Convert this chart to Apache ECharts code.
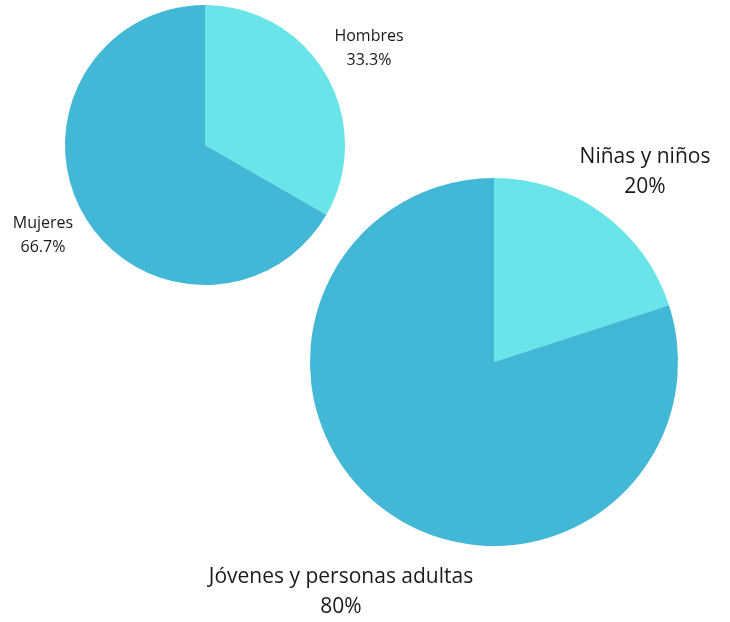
<!DOCTYPE html>
<html>
<head>
<meta charset="utf-8">
<script src="https://cdn.jsdelivr.net/npm/echarts@6/dist/echarts.min.js"></script>
<style>
  html, body { margin: 0; padding: 0; background: #fff; }
  #chart { width: 730px; height: 622px; }
</style>
</head>
<body>
<div id="chart"></div>
<script>
// datos
var sexoNombres = ["Hombres", "Mujeres"];
var sexoValores = [33.3, 66.7];
var edadNombres = ["Niñas y niños", "Jóvenes y personas adultas"];
var edadValores = [20, 80];

var colores = ["#69e4e8", "#43b7d6"];

// donde va cada etiqueta (centro del texto)
var posSexo = [[369, 48], [43, 235]];
var posEdad = [[645, 172], [341, 592]];

function armar(nombres, valores) {
    return nombres.map(function (n, i) {
        return { name: n, value: valores[i], itemStyle: { color: colores[i] } };
    });
}

var chart = echarts.init(document.getElementById("chart"));

var etiqueta = {
    show: true,
    formatter: function (p) { return p.name + "\n" + p.value + "%"; },
    fontFamily: "Open Sans",
    color: "#1a1a1a",
    align: "center",
    overflow: "none"
};

var option = {
    animation: false,
    series: [
        {
            type: "pie",
            center: [205, 145],
            radius: 140,
            startAngle: 90,
            clockwise: true,
            data: armar(sexoNombres, sexoValores),
            label: Object.assign({}, etiqueta, { fontSize: 16, lineHeight: 24 }),
            labelLine: { show: false },
            labelLayout: function (p) {
                var q = posSexo[p.dataIndex];
                return { x: q[0], y: q[1], align: "center", verticalAlign: "middle" };
            }
        },
        {
            type: "pie",
            center: [494, 362],
            radius: 184,
            startAngle: 90,
            clockwise: true,
            data: armar(edadNombres, edadValores),
            label: Object.assign({}, etiqueta, { fontSize: 21, lineHeight: 30 }),
            labelLine: { show: false },
            labelLayout: function (p) {
                var q = posEdad[p.dataIndex];
                return { x: q[0], y: q[1], align: "center", verticalAlign: "middle" };
            }
        }
    ]
};

chart.setOption(option);
</script>
</body>
</html>
